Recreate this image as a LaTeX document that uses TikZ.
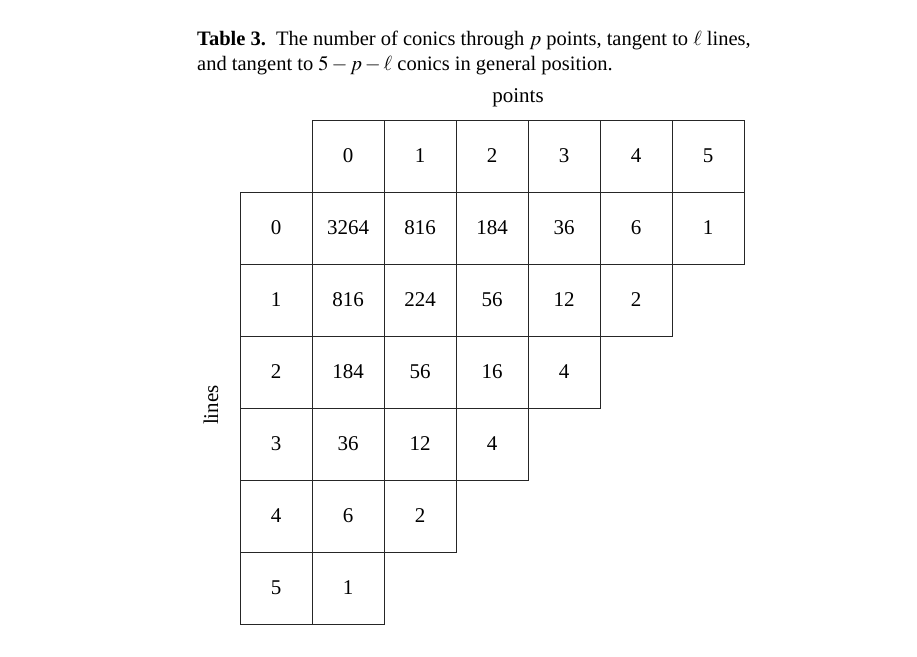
\documentclass[tikz,border=0pt]{standalone}
\usepackage{mathptmx}
\usepackage{fontspec}
\setmainfont{Liberation Serif}
\newcommand{\tablecell}[4]{\node[cellbox] (#1) at (#3,#4) {#2};}
\tikzset{
  cellbox/.style={draw=black!85, line width=0.8pt, minimum size=72pt, inner sep=0pt},
  every node/.style={font=\fontsize{21}{25}\selectfont},
  captionline/.style={anchor=base west, inner sep=0pt, font=\fontsize{20.5}{25}\selectfont}
}

\begin{document}
\begin{tikzpicture}[x=1pt,y=-1pt]
\useasboundingbox (0,0) rectangle (917,656);
\node[captionline] (captionA) at (197,45)
  {\textbf{Table 3.}\enspace The number of conics through $p$ points, tangent to $\ell$ lines,};
\node[captionline] (captionB) at (197,70)
  {and tangent to $5-p-\ell$ conics in general position.};
\node (pointslabel) at (518,98) {points};
\node[rotate=90] (lineslabel) at (211,405) {lines};
% header row and lines column
\foreach \p in {0,...,5}{
  \tablecell{pt\p}{\p}{{348+72*\p}}{156}
}
\foreach \l in {0,...,5}{
  \tablecell{ln\l}{\l}{276}{{228+72*\l}}
}
% the counts
\foreach \row [count=\l from 0] in {{3264,816,184,36,6,1},{816,224,56,12,2},{184,56,16,4},{36,12,4},{6,2},{1}}{
  \foreach \v [count=\p from 0] in \row {
    \tablecell{c\l\p}{\v}{{348+72*\p}}{{228+72*\l}}
  }
}
\end{tikzpicture}
\end{document}
